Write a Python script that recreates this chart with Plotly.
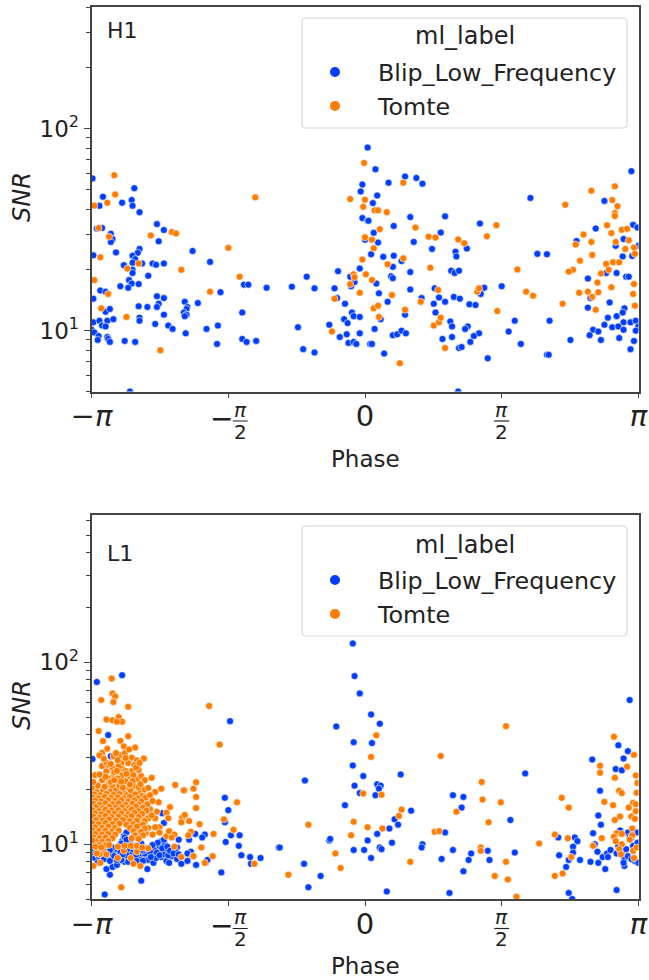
import plotly.graph_objects as go

BLUE = "#023eff"
ORANGE = "#ff7c00"
series_names = ["Blip_Low_Frequency", "Tomte"]
legend_title = "ml_label"
detectors = ["H1", "L1"]
major_snr = [10, 100]
minor_h1 = [5, 6, 7, 8, 9, 20, 30, 40, 50, 60, 70, 80, 90, 200, 300, 400]
minor_l1 = [5, 6, 7, 8, 9, 20, 30, 40, 50, 60, 70, 80, 90, 200, 300, 400, 500, 600]

h1_blip = [(-3.13,56.7),(-3.01,46),(-3.05,41.5),(-2.79,43),(-2.68,44.3),(-2.67,41.5),(-2.65,50.7),(-2.59,38.6),(-2.39,33.7),(-2.31,31.5),(-2.37,27.7),(-3.08,32),(-3.02,32.2),(-2.92,30.2),(-2.90,28.4),(-2.92,27.5),(-2.86,24.4),(-3.12,23.6),(-2.59,25.4),(-2.61,24.3),(-2.67,23.5),(-2.64,22.6),(-2.67,21.7),(-2.56,21.5),(-2.77,21.1),(-2.44,21.5),(-2.40,21.2),(-2.31,21.5),(-2.67,20),(-2.67,19.3),(-2.71,17.8),(-2.68,17.1),(-2.60,17),(-2.81,16.6),(-2.72,16.3),(-2.49,18.7),(-1.98,24.8),(-1.78,21.9),(-1.39,16.9),(-1.34,16.9),(-1.13,16.3),(-0.84,16.5),(-0.67,18.5),(-0.58,16.2),(-0.31,19.7),(-0.35,16.2),(-0.32,14.5),(-0.17,18.5),(-0.16,16.6),(-0.12,17.4),(-0.06,20.3),(-0.03,52.9),(-0.05,48.9),(-0.03,36.1),(0.03,35),(0,28.2),(0.03,80.6),
(-3.12,14.4),(-3.04,15.8),(-2.98,15.6),(-2.98,12.4),(-2.93,12.8),(-3.12,11),(-3.05,11.2),(-2.96,11.2),(-2.89,11.4),(-3.02,10.6),(-2.98,10.5),(-3.14,10.1),(-3.11,9.8),(-3.06,9.4),(-3.07,9),(-2.96,9.3),(-2.95,9.1),(-2.93,8.8),(-2.76,8.9),(-2.64,8.8),(-2.70,5),(-2.60,13.2),(-2.50,13.1),(-2.39,14.8),(-2.31,14.5),(-2.37,13.6),(-2.39,13.1),(-2.59,11.6),(-2.59,11.2),(-2.31,12),(-2.41,10.8),(-2.26,10.6),(-2.21,10.2),(-2.06,9.7),(-2.07,13.9),(-2.04,13.1),(-2.05,12.8),(-2.08,12.3),(-2.05,12),(-2.07,11.8),(-1.92,13.7),(-1.66,15.5),(-1.82,10.2),(-1.69,10.6),(-1.70,8.6),(-1.41,12.3),(-1.41,9.1),(-1.36,8.8),(-1.25,8.9),(-0.77,10.4),(-0.71,8.1),(-0.58,7.8),(-0.41,10.7),(-0.23,13.6),(-0.24,11.4),(-0.20,10.9),(-0.15,12.3),(-0.13,11.8),(-0.06,11.7),(-0.29,9.3),(-0.21,9.6),(-0.06,9.7),(-0.19,8.7),(-0.13,8.8),(-0.10,8.6),(0.06,8.6),
(0.12,62.9),(0.27,54),(0.46,57.9),(0.59,57),(0.66,53.4),(0.14,46.7),(0.09,42.8),(0.04,35),(0.10,30.5),(0.33,33.0),(0.52,36.5),(0.92,36.8),(0.87,30.6),(0.56,27.5),(0.15,27.3),(0.07,23.9),(0.21,23.2),(0.33,23.5),(0.32,20.7),(0.42,22.1),(0.52,19.5),(0.30,18.6),(0.32,18.2),(0.13,17.1),(0.52,16),(0.16,15.3),(0.26,13.9),(0.46,12),(0.18,11.4),(0.11,10.2),(0.08,8.6),(0.22,7.7),(0.32,9.5),(0.37,9.6),(0.42,10),(0.47,9.7),(0.77,25.4),(1.04,24.6),(1.05,23.3),(1.17,25.5),(0.99,19.8),(1.03,19.3),(1.08,19.8),(1.32,33.9),(1.37,16.3),(1.33,15.2),(1.57,16.6),(0.80,16.2),(0.65,14.5),(0.85,14.6),(0.79,13.6),(0.92,13.9),(1.02,14.7),(1.09,14.4),(1.20,13.5),(1.27,13.4),(0.81,12.3),(0.98,11.1),(1.00,10.5),(1.18,10.5),(1.15,10.2),(1.31,9.7),(1.25,9.4),(1.21,8.8),(0.89,9.1),(1.00,9.3),(1.08,8.2),(1.11,8.3),(1.41,7.3),(1.07,5),(1.90,45.4),(1.98,24),(2.09,23.9),(1.72,11.2),(1.65,9.9),(1.79,8.6),(2.12,11.2),(2.09,7.6),(2.11,7.6),(2.36,9),(2.43,27.8),(3.06,61.6),(2.75,43.9),(2.65,32.0),(3.08,33.4),(3.13,32.4),(2.97,28.4),(2.88,26.3),(3.14,26.3),(2.96,23.3),(3.07,23.4),(2.77,19.3),(2.89,19.3),(2.56,18.1),(3.00,18.5),(3.03,18.5),(2.59,14.5),(2.81,13.8),(2.56,13),(2.98,12.9),(2.96,12.3),(2.89,11.8),(2.79,11.6),(2.97,11),(3.05,11),(3.11,11.2),(2.75,10.7),(2.84,10.4),(2.91,10.5),(2.97,10.1),(3.14,10.5),(3.11,10),(2.62,10.1),(2.68,9.9),(2.58,9.5),(2.71,9),(2.92,9.2),(3.09,8.9),(3.05,8.1)]

h1_tomte = [(-2.88,58.8),(-2.87,47.2),(-2.96,43),(-3.11,41.6),(-3.06,32.2),(-2.94,29.2),(-3.04,23.1),(-3.11,17.8),(-2.95,15.2),(-3.03,12.9),(-2.74,11.7),(-2.73,20.3),(-2.60,21.5),(-2.46,29.6),(-2.22,30.8),(-2.17,30.3),(-2.11,20),(-1.78,15.6),(-2.35,8),(-1.57,25.7),(-1.44,18.5),(-1.26,45.7),(-0.17,44.8),(0,44.5),(-0.02,41),(-0.01,67.6),(0,29),(-0.03,22.5),(0.01,19),(-0.13,19),(-0.12,18.4),(-0.17,17),(-0.06,15.4),(-0.35,14.4),(-0.38,9.9),
(0.44,54),(0.11,39.4),(0.15,39.4),(0.25,38.6),(0.17,31.8),(0.08,28.2),(0.10,25.6),(0.08,17.8),(0.31,15),(0.10,12.9),(0.15,13.3),(0.16,11.7),(0.46,12.7),(0.26,21.3),(0.44,22.8),(0.58,32.4),(0.73,29.2),(0.81,28.9),(0.75,20.5),(0.40,6.9),(0.64,13.9),(0.84,15.9),(0.79,10.6),(0.85,11),(0.87,11.6),(0.92,8.2),(1.07,28.3),(1.14,27.1),(1.29,15.6),(1.31,16.2),(1.40,29.3),(1.51,33.3),(1.52,12.5),(1.75,20.1),(1.85,15.6),(1.93,14.9),(2.27,13.6),(2.30,42),(2.60,49.3),(2.87,51.8),(2.84,44.3),(2.90,41.3),(2.87,38.2),(2.87,37),(2.78,33.3),(2.51,29.9),(2.83,30.4),(2.95,31.6),(3.01,31.9),(2.42,26.7),(2.60,27.5),(2.88,27.5),(3.03,28),(2.99,25.4),(3.09,25.8),(3.10,24),(2.61,23.7),(2.47,22.2),(2.77,21.4),(2.85,21.8),(2.92,21.8),(2.39,20),(2.34,19.6),(2.80,20),(2.71,19.2),(2.67,17.3),(2.83,16.4),(3.09,17),(2.46,15.4),(2.56,15.6),(2.68,15.5),(2.61,14.7),(3.08,15.2),(3.10,13.3),(2.65,12.7)]

l1_blip = [(-2.79,85),(-3.08,78),(-2.95,39.8),(-3.13,29.4),(-2.92,30.5),(-2.62,27.1),(-1.55,47.5),(-1.61,18),(-1.57,15.4),(-1.61,13.2),(-1.44,11.2),(-1.54,11.2),(-1.60,10.3),(-1.45,9.8),(-1.42,8.7),(-1.32,8.5),(-1.20,8.4),(-1.31,7.8),(-0.99,9.6),(-1.65,7),(-2.57,6.3),(-2.99,5.3),(-2.93,6.8),(-2.97,7.3),(-2.90,7.5),(-2.50,7.3),(-2.14,10.6),(-2.02,10.6),(-1.95,11.4),(-1.84,11.3),(-1.87,10.9),(-2.16,9.6),(-2.33,14.8),(-2.31,13.1),(-2.91,14.9),(-2.08,19.8),
(-3.12,9.4),(-3.13,8.7),(-3.10,8.4),(-3.09,9),(-3.02,8.7),(-2.95,8.3),(-2.91,8.9),(-2.87,9),(-2.85,9.4),(-2.82,9.8),(-2.79,10.4),(-2.77,11.1),(-2.74,11.6),(-2.76,10.9),(-2.70,10.2),(-2.72,9.4),(-2.66,9.1),(-2.62,9.4),(-2.58,8.5),(-2.52,8.6),(-2.49,8.2),(-2.43,7.9),(-2.45,8.8),(-2.41,9.4),(-2.36,9.8),(-2.34,10.4),(-2.30,10),(-2.29,9.2),(-2.34,8.5),(-2.28,8.1),(-2.25,7.9),(-2.22,8.6),(-2.16,8.3),(-2.11,7.8),(-2.04,8.1),(-2.00,9.1),(-2.04,8.9),(-1.98,8.6),(-1.94,7.7),(-1.83,7.9),(-1.81,8.2),(-2.76,8),(-2.85,7.7),(-2.80,8.2),(-2.66,7.9),(-2.59,8.9),(-2.53,8.9),(-2.97,9),(-3.02,9.2),(-3.07,7.9),(-2.98,9.5),(-2.90,9.6),(-2.83,8.5),(-2.70,8.7),(-2.60,9.6),(-2.55,9.2),(-2.47,9.1),(-2.40,8.4),(-2.38,10.2),(-2.32,8.8),(-2.26,8.7),(-2.18,9.2),
(-3.06,8.6),(-3.00,8.3),(-2.93,8.1),(-2.88,8.6),(-2.81,9.1),(-2.74,8.7),(-2.68,8.3),(-2.63,8.7),(-2.57,9.3),(-2.51,9.5),(-2.46,8.5),(-2.44,9.9),(-2.39,9.0),(-2.36,8.7),(-2.33,9.5),(-2.31,10.6),(-2.27,9.7),(-2.24,9.2),(-2.20,8.9),(-2.14,8.8),(-2.85,8.2),(-2.78,8.8),(-2.72,8.0),(-2.62,8.1),(-2.55,8.1),(-3.13,9.9),(-3.08,9.6),(-2.93,9.3),(-2.80,10.1),(-2.74,10.6),(-2.67,9.8),(-2.57,10.1),
(-0.14,127),(-0.12,84),(-0.06,67.5),(0.07,51.7),(0.17,46),(-0.33,44.4),(-0.13,36.4),(0.08,36),(-0.14,27.1),(-0.02,23.7),(-0.69,22.4),(-0.12,21),(0.14,21.4),(0.18,21),(0.16,20.2),(0.41,24.2),(-0.06,19.1),(0.12,18.6),(-0.23,16.4),(0.53,15.3),(0.34,13.7),(0.38,12.8),(0.28,12.2),(0.14,11.4),(0.03,10.5),(-0.41,10.5),(-0.40,10.7),(-0.98,9.6),(-0.13,9.3),(-0.01,9.3),(0.17,9.6),(0.19,9.4),(0.31,10.2),(0.07,8.4),(-0.70,7.8),(-0.51,6.7),(-0.65,5.8),(0.25,5.5),(0.66,10),(0.65,9.6),(0.92,11.6),(1.01,18.6),(1.13,18.2),(1.11,15.9),(1.01,9.3),(1.22,8.9),(1.19,8.2),(0.88,8.3),(1.13,7.1),(0.97,5.4),(1.41,9.2),(1.43,8.2),(1.72,9),(1.67,13.6),(1.84,24.5),(2.22,10.9),(2.41,10.9),(2.44,10.4),(2.39,9.7),(2.39,9),(2.23,8.7),(2.34,8.2),(2.31,7.5),(2.34,5.4),(2.38,5.0),(2.47,8.2),(2.59,8),(2.68,7.9),(2.76,7.3),(2.89,5.6),(2.61,29.2),(3.04,62),(2.91,35),(3.02,32.5),(2.97,29.6),(2.88,25.9),(2.95,25.5),(2.70,19.7),(2.68,14.4),(2.71,12.8),(2.62,11.5),(2.93,11.9),(2.64,10),(2.67,9.1),(2.73,8.5),(2.78,8.9),(2.79,8.5),(2.82,9.3),
(2.91,9.8),(2.93,9.2),(2.95,8.8),(2.98,8.3),(2.98,7.6),(3.02,11.6),(3.04,11),(3.08,9.8),(3.12,11.6),(3.10,8.1),(3.02,8.6),(2.97,7.9),(3.06,10.9),(3.14,7.9),(2.89,8.9),(3.13,10.2),(3.00,9.4),(3.06,8.3)]

l1_tomte = [(-2.91,81.5),(-3.03,62),(-2.90,67.5),(-2.87,65),(-2.89,60.5),(-2.72,57),(-1.79,57.5),(-2.97,48.5),(-2.90,48),(-2.83,50),(-2.79,47.2),(-2.85,47.2),(-3.06,41.9),(-2.72,39.2),(-2.81,37),(-3.01,36.9),(-1.67,35.3),(-2.77,34.5),(-2.64,34),(-2.96,33.5),(-3.02,31.8),(-3.05,30.8),(-2.89,30.5),(-2.81,30.8),(-2.76,31.6),(-2.71,33.2),(-2.54,29.6),(-2.68,29.9),(-2.62,28.9),(-3.02,26.9),(-2.97,28),(-2.94,26.7),(-2.90,26.3),(-2.80,28),(-2.72,28),(-2.79,26),(-2.68,25.2),(-3.10,24),(-2.89,23.9),(-2.79,23.9),(-2.70,23.2),(-2.61,22.9),(-2.57,23.7),(-2.53,22.5),(-2.45,23.2),(-3.02,22.5),(-2.94,22.9),(-2.85,21.8),(-2.95,21.3),(-2.90,20.8),(-2.65,20.9),(-2.71,20),(-2.55,19),(-2.53,20),(-2.41,19.4),(-2.34,20.2),(-2.18,21.2),(-2.08,19.8),(-1.97,20.2),(-1.94,21.9),(-1.94,18.2),(-1.94,15.8),(-1.47,17),(-1.62,13.7),(-1.51,12),(-1.90,12.9),(-1.74,11.4),(-2.00,11.7),(-2.03,11.2),(-2.10,14),(-2.07,14.5),(-2.11,13.2),(-2.02,13.4),(-2.37,17),(-2.24,16.0),(-2.28,14.9),(-2.26,13.9),(-2.39,15.1),(-2.47,15.6),(-2.55,14.5),(-2.49,13.9),(-2.41,13.9),(-2.36,12.4),(-2.41,12.4),(-2.49,12.3),(-2.57,13.2),(-2.66,13.7),(-2.60,12.1),(-2.52,11.5),(-2.44,11.3),(-2.36,11.6),(-2.28,11.1),(-2.25,11.8),(-2.19,11.3),(-2.22,10.9),(-2.19,9.7),(-1.88,9.6),(-2.11,8.5),(-1.97,8.6),(-1.75,8.6),(-1.84,7.9),(-1.27,7.8),(-2.80,5.8),(-3.12,7.6),(-3.04,7.9),(-2.84,8.4),(-2.69,8.4),(-2.66,7.8),(-2.58,7.6),(-2.49,9.5),(-2.62,9.1),(-2.77,9.2),(-2.84,9.7),(-2.76,9.8),(-2.69,9.8),(-2.62,9.8),(-2.56,9.6),(-3.05,9.4),(-3.00,9.2),(-3.05,8.8),
(-3.13,19.6),(-3.08,19.4),(-3.01,19.7),(-2.93,19.5),(-2.86,19.8),(-2.78,19.4),(-2.69,19.6),(-2.60,19.3),(-3.11,18.8),(-3.04,18.6),(-2.97,18.9),(-2.89,18.7),(-2.82,18.9),(-2.74,18.6),(-2.64,18.8),(-2.56,18.4),(-3.13,18.1),(-3.06,17.9),(-2.99,18.2),(-2.92,18),(-2.84,18.1),(-2.77,17.9),(-2.70,18.2),(-2.61,17.9),(-2.52,18),(-3.10,17.4),(-3.03,17.2),(-2.95,17.5),(-2.87,17.3),(-2.80,17.5),(-2.72,17.2),(-2.65,17.4),(-2.57,17.2),(-3.12,16.7),(-3.05,16.5),(-2.98,16.8),(-2.90,16.6),(-2.83,16.8),(-2.75,16.5),(-2.67,16.7),(-2.60,16.5),(-2.50,16.6),(-3.09,16),(-3.01,15.8),(-2.94,16.1),(-2.86,15.9),(-2.79,16),(-2.71,15.8),(-2.63,16.1),(-2.55,15.9),(-3.13,15.4),(-3.06,15.2),(-2.98,15.5),(-2.91,15.3),(-2.83,15.4),(-2.76,15.2),(-2.68,15.5),(-2.60,15.2),(-2.51,15.3),(-3.10,14.8),(-3.03,14.6),(-2.95,14.9),(-2.88,14.7),(-2.80,14.8),(-2.72,14.6),(-2.65,14.9),(-2.56,14.7),(-3.12,14.2),(-3.05,14),(-2.98,14.3),(-2.91,14.1),(-2.83,14.2),(-2.75,14),(-2.68,14.3),(-2.60,14.1),(-2.45,14.4),(-3.09,13.6),(-3.01,13.5),(-2.94,13.7),(-2.86,13.5),(-2.78,13.6),(-2.70,13.4),(-2.62,13.5),(-2.53,13.4),(-3.13,13),(-3.06,12.9),(-2.98,13.1),(-2.90,12.9),(-2.82,13),(-2.74,12.8),(-2.66,12.9),(-2.55,12.8),(-3.10,12.4),(-3.02,12.3),(-2.95,12.5),(-2.87,12.3),(-2.70,12.3),(-2.62,12.5),(-2.53,12.2),(-3.13,11.9),(-3.06,11.8),(-2.98,11.9),(-2.91,11.7),(-2.83,11.9),(-2.66,11.8),(-2.57,11.7),(-3.10,11.4),(-3.02,11.3),(-2.95,11.4),(-2.87,11.3),(-2.64,11.2),(-2.55,11.2),(-3.12,10.9),(-3.05,10.8),(-2.98,10.9),(-2.90,10.8),(-2.68,10.8),(-2.60,10.7),(-3.09,10.4),(-3.02,10.3),(-2.95,10.4),(-3.05,9.9),(-2.98,9.9),
(-2.97,25.1),(-2.88,24.9),(-2.83,26.8),(-2.75,25.3),(-2.84,23),(-2.75,22.2),(-2.66,24),(-2.60,25.6),(-2.65,27.2),(-2.92,22),(-3.07,21),(-2.99,20.7),(-2.82,21),(-2.78,20.5),(-2.60,20.6),(-2.49,20.4),(-2.47,18.6),(-2.44,17.3),
(-3.00,29.5),(-2.86,31.7),(-2.84,29),(-2.75,29.8),(-2.92,27.6),(-2.85,25.3),(-2.74,24.4),(-2.63,26.4),(-2.58,21.4),(-2.67,22.3),(-2.80,22.1),(-2.88,22.5),(-3.05,24.2),(-3.14,20.4),(-3.12,22),(-2.98,23.5),(-2.70,21.3),(-2.59,28),
(-3.10,9.7),(-3.03,9.6),(-2.94,9.9),(-3.13,10.5),(-3.08,8.9),(-2.97,8.8),
(0.13,39.7),(0.07,30.2),(0.87,30.6),(1.62,44.6),(-0.02,19),(0.19,18.7),(0.42,15.5),(0.39,14.3),(-0.13,13.3),(-0.65,12.8),(0.03,12.4),(0.20,12.2),(-0.16,11.2),(-0.34,8.9),(-0.28,7.4),(-0.88,6.8),(0.52,8),(0.80,11.7),(0.85,11.8),(1.34,22),(1.35,17.6),(1.56,17),(1.05,15.1),(1.42,13.2),(1.33,9.6),(1.33,9.2),(1.62,8),(1.49,6.7),(1.64,6.4),(1.74,5.15),(2.0,10.1),(2.18,11.3),(2.26,18),(2.34,15.9),(2.33,10.8),(2.37,8.5),(2.18,6.7),(2.27,6.9),(2.86,39),(3.09,31),(3.01,26.7),(2.70,27),(2.70,24.7),(2.87,23.2),(3.11,23.9),(3.13,21.7),(2.92,19.7),(2.95,19.1),(3.12,19.2),(2.75,17.1),(2.85,16.4),(3.08,16.9),(3.11,16.6),(3.03,15.9),(3.11,15.2),(2.93,14.2),(2.87,13.6),(3.06,14.2),(3.10,13.8),(3.07,12.2),(2.89,11.5),(2.95,11.4),(2.86,11),(3.07,11.2),(2.72,10.8),(2.88,10.4),(3.04,10.6),(2.95,10),(2.62,9.8),(2.92,9.4),(2.94,8.8),(3.08,9.2),(3.12,9.6),(3.09,8.4)]

W, H = 649.0, 980.0
PI = 3.14159265
FONT = "DejaVu Sans"
INK = "#222222"
SPINE = "#444444"

def px(x):
    return x / W

def py(y):
    return 1 - y / H

def marker(color):
    return dict(color=color, size=7, line=dict(color="white", width=0.6))

fig = go.Figure()
panels = [(h1_blip, h1_tomte, "x", "y", "legend"), (l1_blip, l1_tomte, "x2", "y2", "legend2")]
for blip, tomte, xa, ya, leg in panels:
    for pts, name, col in ((blip, series_names[0], BLUE), (tomte, series_names[1], ORANGE)):
        fig.add_trace(go.Scatter(x=[p[0] for p in pts], y=[p[1] for p in pts], mode="markers",
                                 name=name, marker=marker(col), xaxis=xa, yaxis=ya, legend=leg,
                                 legendgroup=leg + name))

tick_vals = [-PI, 0, PI]
frac_vals = [-PI / 2, PI / 2]
pi = "<i>π</i>"
tick_text = ["−" + pi, "0", pi]

def xaxis():
    return dict(domain=[px(91.5), px(638.5)], range=[-PI, PI], tickmode="array", tickvals=tick_vals, ticktext=tick_text,
                ticks="outside", ticklen=5, tickwidth=1, tickcolor=SPINE, automargin=False,
                minor=dict(tickmode="array", tickvals=frac_vals, ticks="outside", ticklen=5, tickwidth=1, tickcolor=SPINE, showgrid=False),
                tickfont=dict(family=FONT, size=29, color=INK), ticklabelstandoff=-7,
                showgrid=False, zeroline=False, showline=True, linecolor=SPINE, linewidth=1.6, mirror=True)

def yaxis(dom, rng, minors, anchor):
    return dict(domain=dom, type="log", range=rng, tickmode="array", tickvals=major_snr,
                ticktext=["10<sup>1</sup>", "10<sup>2</sup>"], ticks="outside", ticklen=6, tickwidth=1,
                tickcolor=SPINE, tickfont=dict(family=FONT, size=23, color=INK), automargin=False,
                minor=dict(tickmode="array", tickvals=minors, ticks="outside", ticklen=3.5, tickwidth=0.8, tickcolor=SPINE, showgrid=False),
                showgrid=False, zeroline=False, showline=True, linecolor=SPINE, linewidth=1.6, mirror=True,
                anchor=anchor)

fig.update_layout(
    width=649, height=980, autosize=False, margin=dict(l=0, r=0, t=0, b=0),
    paper_bgcolor="white", plot_bgcolor="white", font=dict(family=FONT, color=INK),
    xaxis=dict(xaxis(), anchor="y"),
    xaxis2=dict(xaxis(), anchor="y2"),
    yaxis=yaxis([py(391.5), py(7)], [0.69897, 2.60206], minor_h1, "x"),
    yaxis2=yaxis([py(899), py(515)], [0.69897, 2.81], minor_l1, "x2"),
)

def legend(top):
    return dict(x=px(292), y=py(top), xanchor="left", yanchor="top", bgcolor="rgba(0,0,0,0)",
                borderwidth=0, font=dict(family=FONT, size=23.8, color=INK), itemsizing="constant",
                itemwidth=76, entrywidth=255, entrywidthmode="pixels",
                tracegroupgap=0, traceorder="grouped", itemclick=False)

fig.update_layout(legend=legend(50), legend2=legend(558))

shapes = []
annots = []
for top in (18, 526):
    x0, x1, y0, y1 = px(302), px(627), py(top + 110), py(top)
    rx, ry = 4 / W, 4 / H
    shapes.append(dict(type="path", xref="paper", yref="paper",
                       path=f"M {x0+rx} {y1} L {x1-rx} {y1} Q {x1} {y1} {x1} {y1-ry} L {x1} {y0+ry} Q {x1} {y0} {x1-rx} {y0} "
                            f"L {x0+rx} {y0} Q {x0} {y0} {x0} {y0+ry} L {x0} {y1-ry} Q {x0} {y1} {x0+rx} {y1} Z",
                       line=dict(color="#d8d8d8", width=1.2), fillcolor="rgba(255,255,255,0.85)", layer="above"))

def text(t, x, y, size, xref="paper", anchor="center", **kw):
    annots.append(dict(text=t, xref=xref, yref="paper", x=x, y=py(y), xanchor=anchor, yanchor="middle",
                       showarrow=False, font=dict(family=FONT, size=size, color=INK), **kw))

text(detectors[0], px(105), 30, 22, anchor="left")
text(detectors[1], px(105), 553, 22, anchor="left")
text(legend_title, px(465), 36, 24)
text(legend_title, px(465), 545, 24)
RAD_PER_PX = 2 * PI / 547
for xa, base, phase_y, snr_y in (("x", 391.5, 459, 197), ("x2", 899, 966, 705)):
    text("Phase", px(365), phase_y, 23)
    text("<i>SNR</i>", px(22), snr_y, 24, textangle=-90)
    bar_y = base + 29.5
    for v, shift in ((-PI / 2, 12 * RAD_PER_PX), (PI / 2, 0)):
        c = v + shift
        shapes.append(dict(type="line", xref=xa, yref="paper", x0=c - 7.5 * RAD_PER_PX, x1=c + 7.5 * RAD_PER_PX,
                           y0=py(bar_y), y1=py(bar_y), line=dict(color=INK, width=1.2)))
        text(pi, c, bar_y - 11.5, 20, xref=xa)
        text("2", c, bar_y + 10.5, 20, xref=xa)
    text("−", -PI / 2 + 7 * RAD_PER_PX, bar_y - 3, 28, xref=xa, anchor="right")
fig.update_layout(shapes=shapes, annotations=annots)

fig.write_html("out.html", post_script="document.body.style.margin='0';", config={"displayModeBar": False})
